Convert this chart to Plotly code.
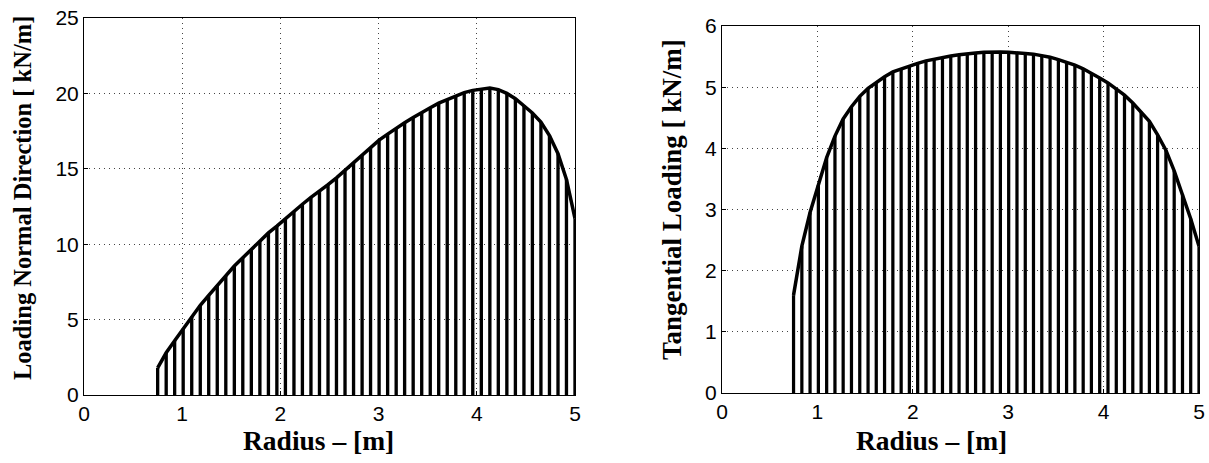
import plotly.graph_objects as go

# Radius positions of the stems [m]
radius = [0.750, 0.837, 0.923, 1.010, 1.097, 1.184, 1.270, 1.357, 1.444, 1.531,
          1.617, 1.704, 1.791, 1.878, 1.964, 2.051, 2.138, 2.224, 2.311, 2.398,
          2.485, 2.571, 2.658, 2.745, 2.832, 2.918, 3.005, 3.092, 3.179, 3.265,
          3.352, 3.439, 3.526, 3.612, 3.699, 3.786, 3.872, 3.959, 4.046, 4.133,
          4.219, 4.306, 4.393, 4.480, 4.566, 4.653, 4.740, 4.827, 4.913, 5.000]

# Loading in normal direction [kN/m]
normal_load = [1.8, 2.8, 3.6, 4.4, 5.2, 5.95, 6.6, 7.25, 7.9, 8.55,
               9.1, 9.65, 10.2, 10.75, 11.2, 11.7, 12.2, 12.65, 13.1, 13.5,
               13.95, 14.4, 14.9, 15.4, 15.9, 16.4, 16.9, 17.3, 17.7, 18.05,
               18.4, 18.75, 19.05, 19.35, 19.6, 19.85, 20.05, 20.2, 20.3, 20.35,
               20.25, 20.0, 19.65, 19.2, 18.7, 18.1, 17.2, 16.0, 14.3, 11.7]

# Tangential loading [kN/m]
tangential_load = [1.6, 2.4, 2.95, 3.4, 3.85, 4.2, 4.48, 4.68, 4.85, 4.98,
                   5.08, 5.17, 5.25, 5.3, 5.35, 5.39, 5.43, 5.46, 5.49, 5.51,
                   5.53, 5.55, 5.56, 5.57, 5.575, 5.575, 5.57, 5.565, 5.55, 5.54,
                   5.52, 5.49, 5.45, 5.41, 5.36, 5.30, 5.23, 5.15, 5.07, 4.97,
                   4.87, 4.74, 4.60, 4.44, 4.22, 3.97, 3.63, 3.25, 2.85, 2.4]

x_ticks = [0, 1, 2, 3, 4, 5]
y1_ticks = [0, 5, 10, 15, 20, 25]
y2_ticks = [0, 1, 2, 3, 4, 5, 6]

W, H = 1209, 463

fig = go.Figure()

fig.add_trace(go.Bar(x=radius, y=normal_load, width=0.034,
                     marker=dict(color="black", line=dict(width=0)),
                     xaxis="x", yaxis="y", showlegend=False))
fig.add_trace(go.Scatter(x=radius, y=normal_load, mode="lines",
                         line=dict(color="black", width=3.5),
                         xaxis="x", yaxis="y", showlegend=False))
fig.add_trace(go.Bar(x=radius, y=tangential_load, width=0.034,
                     marker=dict(color="black", line=dict(width=0)),
                     xaxis="x2", yaxis="y2", showlegend=False))
fig.add_trace(go.Scatter(x=radius, y=tangential_load, mode="lines",
                         line=dict(color="black", width=3.5),
                         xaxis="x2", yaxis="y2", showlegend=False))

tickfont = dict(family="Liberation Sans, Arial", size=21, color="black")
axis_common = dict(showline=True, linecolor="black", linewidth=1, mirror=True,
                   ticks="inside", ticklen=4, tickcolor="black",
                   showgrid=True, gridcolor="#444444", gridwidth=1,
                   griddash="1px,4px",
                   zeroline=False, tickfont=tickfont, automargin=False)

fig.update_layout(
    width=W, height=H,
    margin=dict(l=0, r=0, t=0, b=0, autoexpand=False),
    paper_bgcolor="white", plot_bgcolor="white",
    barmode="overlay",
    xaxis=dict(domain=[84 / W, 575 / W], range=[0, 5], tickvals=x_ticks,
               anchor="y", **axis_common),
    yaxis=dict(domain=[(H - 395) / H, (H - 18) / H], range=[0, 25],
               tickvals=y1_ticks, anchor="x", **axis_common),
    xaxis2=dict(domain=[722 / W, 1199 / W], range=[0, 5], tickvals=x_ticks,
                anchor="y2", **axis_common),
    yaxis2=dict(domain=[(H - 393) / H, (H - 26) / H], range=[0, 6],
                tickvals=y2_ticks, anchor="x2", **axis_common),
)

serif = "Liberation Serif, Times New Roman"
annotations = [
    dict(text="<b>Radius – [m]</b>", x=318 / W, y=1 - 440 / H, size=27.5),
    dict(text="<b>Radius – [m]</b>", x=932 / W, y=1 - 440 / H, size=27.5),
    dict(text="<b>Loading Normal Direction [ kN/m]</b>", x=22 / W, y=1 - 198 / H,
         textangle=-90, size=24.5),
    dict(text="<b>Tangential Loading [ kN/m]</b>", x=672 / W, y=1 - 200 / H,
         textangle=-90, size=27),
]
for a in annotations:
    size = a.pop("size")
    fig.add_annotation(xref="paper", yref="paper", showarrow=False,
                       xanchor="center", yanchor="middle",
                       font=dict(family=serif, size=size, color="black"), **a)

fig.write_html("out.html",
               config={"displayModeBar": False},
               post_script="document.body.style.margin='0';"
                           "document.body.style.overflow='hidden';")
